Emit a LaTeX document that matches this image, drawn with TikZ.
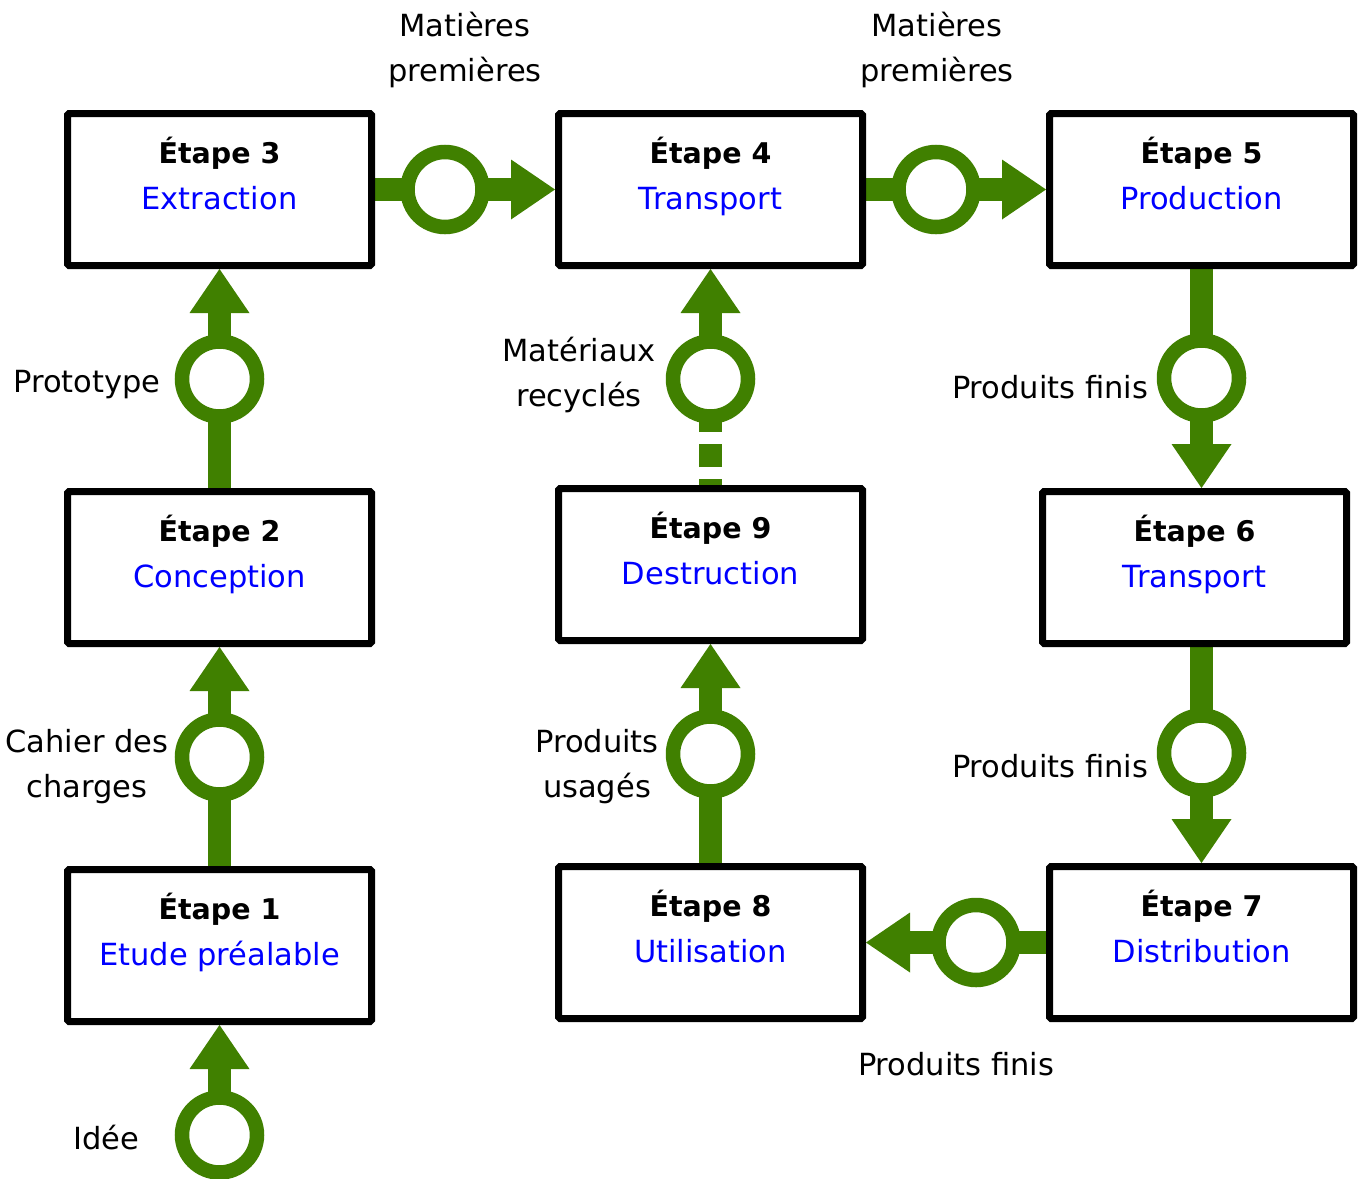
\documentclass[tikz,border=0pt]{standalone}
\usepackage{fontspec}
\setmainfont{DejaVu Sans}
\usetikzlibrary{arrows.meta,backgrounds,calc}
\definecolor{flowgreen}{RGB}{64,128,0}
\definecolor{namebue}{RGB}{0,0,255}
\begin{document}
\begin{tikzpicture}[x=1pt,y=-1pt,
  stepbox/.style={draw=black, line width=7pt, rounded corners=1.5pt, minimum width=304pt, minimum height=152pt, inner sep=0pt},
  steptitle/.style={font=\fontsize{28.5}{34}\selectfont\bfseries, inner sep=0pt, anchor=base},
  stepname/.style={font=\fontsize{30.5}{36}\selectfont, text=namebue, inner sep=0pt, anchor=base},
  lbl/.style={font=\fontsize{30.5}{36}\selectfont, inner sep=0pt, anchor=base},
  lbltwo/.style={font=\fontsize{30.5}{45}\selectfont, inner sep=0pt, align=center},
  flow/.style={draw=flowgreen, line width=23pt, -{Triangle[length=44pt,width=60pt,line width=0pt]}},
  ring/.style={circle, draw=flowgreen, fill=white, line width=14.5pt, minimum size=75pt, inner sep=0pt}
]
\useasboundingbox (0,0) rectangle (1359,1178);

% boxes
\node[stepbox] (b3) at (219.5,189.5) {};
\node[stepbox] (b2) at (219.5,567.5) {};
\node[stepbox] (b1) at (219.5,945.5) {};
\node[stepbox] (b4) at (710.5,189.5) {};
\node[stepbox] (b9) at (710.5,564.5) {};
\node[stepbox] (b8) at (710.5,942.5) {};
\node[stepbox] (b5) at (1201.5,189.5) {};
\node[stepbox] (b6) at (1194.5,567.5) {};
\node[stepbox] (b7) at (1201.5,942.5) {};

% box texts
\foreach \b/\n/\t in {b1/1/Etude préalable, b2/2/Conception, b3/3/Extraction, b4/4/Transport, b5/5/Production, b6/6/Transport, b7/7/Distribution, b8/8/Utilisation, b9/9/Destruction}{
  \node[steptitle] (s\n) at ($(\b.center)+(0,-26)$) {Étape \n};
  \node[stepname] (n\n) at ($(\b.center)+(0,20)$) {\t};
}

\coordinate (idea) at (219.5,1178);

\begin{scope}[on background layer]
  \draw[flow] (idea) -- (b1.south);
  \node[ring] (r1) at ($(b1.south)+(0,110)$) {};
  \draw[flow] (b1.north) -- (b2.south);
  \node[ring] (r12) at ($(b2.south)+(0,110)$) {};
  \draw[flow] (b2.north) -- (b3.south);
  \node[ring] (r23) at ($(b3.south)+(0,110)$) {};
  \draw[flow] (b3.east) -- (b4.west);
  \node[ring] (r34) at ($(b4.west)+(-110,0)$) {};
  \draw[flow] (b4.east) -- (b5.west);
  \node[ring] (r45) at ($(b5.west)+(-110,0)$) {};
  \draw[flow] (b5.south) -- (b5.south |- b6.north);
  \node[ring] (r56) at ($(b5.south |- b6.north)+(0,-110)$) {};
  \draw[flow] (b7.north |- b6.south) -- (b7.north);
  \node[ring] (r67) at ($(b7.north)+(0,-110)$) {};
  \draw[flow] (b7.west) -- (b8.east);
  \node[ring] (r78) at ($(b8.east)+(110,0)$) {};
  \draw[flow] (b8.north) -- (b9.south);
  \node[ring] (r89) at ($(b9.south)+(0,110)$) {};
  \draw[flow, dash pattern=on 6pt off 12pt on 23pt off 12pt on 500pt off 0pt] (b9.north) -- (b4.south);
  \node[ring] (r94) at ($(b4.south)+(0,110)$) {};
\end{scope}

% labels
\node[lbltwo] (lmp1) at (465,49.5) {\strut Matières\\premières\strut};
\node[lbltwo] (lmp2) at (937,49.5) {\strut Matières\\premières\strut};
\node[lbl] (lproto) at (87,392) {Prototype};
\node[lbltwo] (lcdc) at (87,765.5) {\strut Cahier des\\charges\strut};
\node[lbl] (lidee) at (106,1149) {Idée};
\node[lbltwo] (lmr) at (579,374.5) {\strut Matériaux\\recyclés\strut};
\node[lbltwo] (lpu) at (597,765.5) {\strut Produits\\usagés\strut};
\node[lbl] (lpf1) at (1050,398) {Produits finis};
\node[lbl] (lpf2) at (1050,777) {Produits finis};
\node[lbl] (lpf3) at (956,1075) {Produits finis};
\end{tikzpicture}
\end{document}
